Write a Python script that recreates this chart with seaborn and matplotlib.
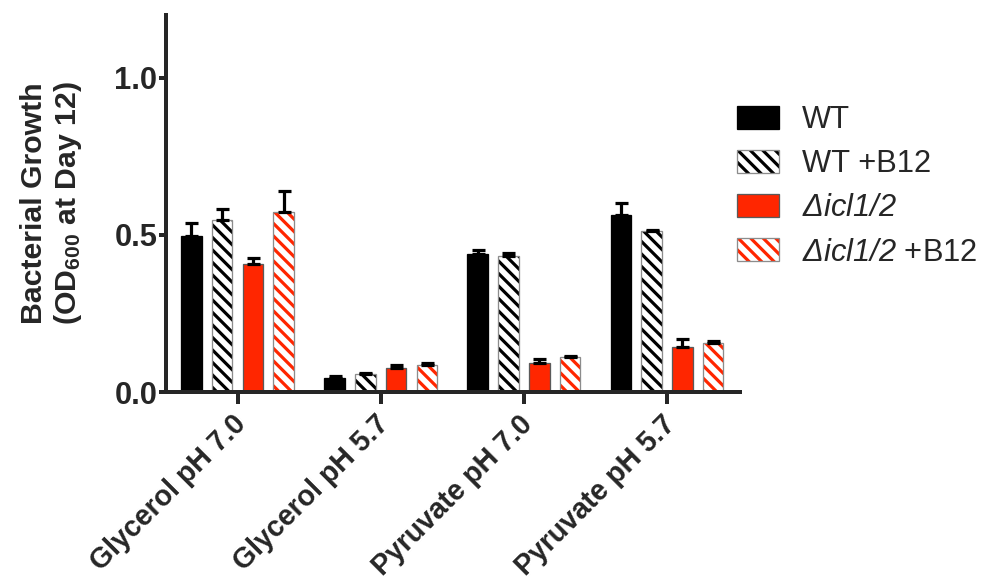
import numpy as np
import pandas as pd
import matplotlib
matplotlib.use("Agg")
import matplotlib.pyplot as plt
import matplotlib.transforms as mtransforms
import seaborn as sns
from matplotlib.patches import Patch, Rectangle

# ---- data -------------------------------------------------------------
conditions = ["Glycerol pH 7.0", "Glycerol pH 5.7", "Pyruvate pH 7.0", "Pyruvate pH 5.7"]
strains = ["WT", "WT +B12", "Δicl1/2", "Δicl1/2 +B12"]
legend_labels = ["WT", "WT +B12", r"$\mathsf{Δicl1/2}$", r"$\mathsf{Δicl1/2}$ +B12"]

wt_mean = [0.498, 0.046, 0.438, 0.562]
wt_sem = [0.041, 0.006, 0.013, 0.039]
wt_b12_mean = [0.546, 0.057, 0.433, 0.512]
wt_b12_sem = [0.038, 0.005, 0.011, 0.005]
icl_mean = [0.406, 0.075, 0.093, 0.144]
icl_sem = [0.019, 0.011, 0.012, 0.024]
icl_b12_mean = [0.573, 0.087, 0.110, 0.157]
icl_b12_sem = [0.067, 0.005, 0.004, 0.006]

means = [wt_mean, wt_b12_mean, icl_mean, icl_b12_mean]
sems = [wt_sem, wt_b12_sem, icl_sem, icl_b12_sem]

yticks = [0.0, 0.5, 1.0]
ytick_labels = ["0.0", "0.5", "1.0"]

# ---- styling ----------------------------------------------------------
RED = "#ff2600"
fills = ["black", "white", RED, "white"]
stripes = [None, "black", None, RED]
outlines = ["black", "#8c8c8c", "#5a5a5a", "#8c8c8c"]
HATCH = "\\\\\\\\"

DPI = 150
PX = 72 / DPI  # points per pixel

sns.set_style("ticks")
plt.rcParams["font.family"] = ["Liberation Sans", "DejaVu Sans"]
plt.rcParams["mathtext.fontset"] = "custom"
plt.rcParams["mathtext.rm"] = "Liberation Sans"
plt.rcParams["mathtext.it"] = "Liberation Sans:italic"
plt.rcParams["mathtext.sf"] = "Liberation Sans:italic"
plt.rcParams["mathtext.bf"] = "Liberation Sans:bold"
plt.rcParams["hatch.linewidth"] = 3.2 * PX

df = pd.DataFrame({
    "condition": np.tile(conditions, len(strains)),
    "strain": np.repeat(strains, len(conditions)),
    "od": np.concatenate(means),
})

fig = plt.figure(figsize=(982 / DPI, 584 / DPI), dpi=DPI)
ax = fig.add_axes([166 / 982, 1 - 392 / 584, (740 - 166) / 982, (392 - 15) / 584])

sns.barplot(data=df, x="condition", y="od", hue="strain", order=conditions,
            hue_order=strains, palette=fills, saturation=1, width=0.86, gap=0.33,
            errorbar=None, legend=False, ax=ax)

bar_groups = list(ax.containers)
for i, cont in enumerate(bar_groups):
    xs, tops = [], []
    for p in cont.patches:
        if stripes[i] is not None:
            p.set_hatch(HATCH)
            p.set_edgecolor(stripes[i])
            p.set_linewidth(0)
            ax.add_patch(Rectangle((p.get_x(), p.get_y()), p.get_width(), p.get_height(),
                                   fill=False, edgecolor=outlines[i], linewidth=1.3 * PX,
                                   zorder=p.get_zorder() + 0.1))
        else:
            p.set_edgecolor(outlines[i])
            p.set_linewidth(1.3 * PX)
        xs.append(p.get_x() + p.get_width() / 2)
        tops.append(p.get_height())
    ax.errorbar(xs, tops, yerr=[np.zeros(len(tops)), sems[i]], fmt="none",
                ecolor="black", elinewidth=3.2 * PX, capsize=6.5 * PX,
                capthick=3.2 * PX, zorder=4)

ax.set_xlim(-0.5, 3.51)
ax.set_ylim(0, 1.2)
ax.set_yticks(yticks)
ax.set_yticklabels(ytick_labels, fontsize=14.8, fontweight="bold")
ax.set_xticks(range(len(conditions)))
ax.set_xticklabels(conditions, fontsize=13.7, fontweight="bold",
                   rotation=45, ha="right", rotation_mode="anchor")
ax.set_xlabel("")
ax.set_ylabel("Bacterial Growth\n(OD$_{\\mathbf{600}}$ at Day 12)",
              fontsize=14.5, fontweight="bold", labelpad=30 * PX)

for side in ("top", "right"):
    ax.spines[side].set_visible(False)
for side in ("left", "bottom"):
    ax.spines[side].set_linewidth(4 * PX)
ax.tick_params(axis="y", length=7 * PX, width=4 * PX, pad=1.5 * PX)
ax.tick_params(axis="x", length=12 * PX, width=4 * PX, pad=6 * PX)

# nudge the slanted category labels so their ends sit just under the ticks
shift = mtransforms.ScaledTranslation(-6 / DPI, 0, fig.dpi_scale_trans)
for lbl in ax.get_xticklabels():
    lbl.set_transform(lbl.get_transform() + shift)

handles = []
for i in range(len(strains)):
    if stripes[i] is None:
        handles.append(Patch(facecolor=fills[i], edgecolor=outlines[i], linewidth=1.3 * PX))
    else:
        handles.append((Patch(facecolor="white", hatch=HATCH, edgecolor=stripes[i], linewidth=0),
                        Patch(fill=False, edgecolor=outlines[i], linewidth=1.3 * PX)))

fig.legend(handles, legend_labels, loc="upper left",
           bbox_to_anchor=(737 / 982, 1 - 105 / 584), frameon=False,
           fontsize=14.8, handlelength=1.36, handleheight=0.78,
           handletextpad=0.75, labelspacing=0.46, borderpad=0, borderaxespad=0)

fig.savefig("out.png", dpi=DPI)
